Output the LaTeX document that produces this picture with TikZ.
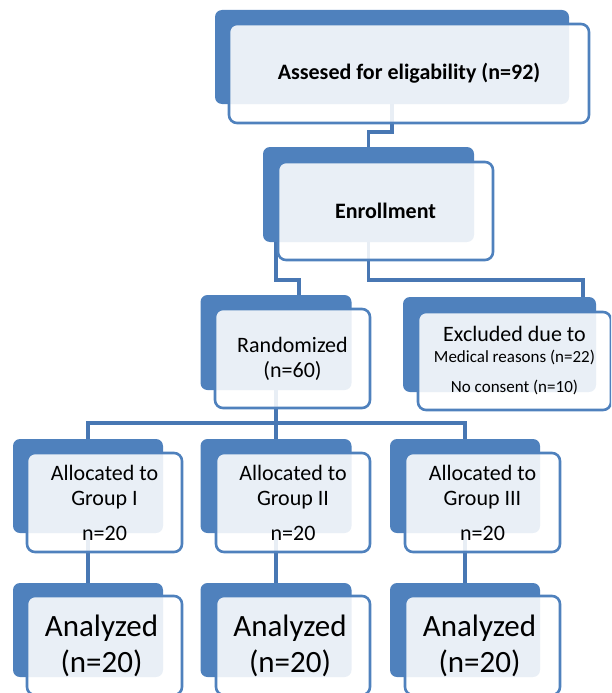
\documentclass[tikz,border=0pt]{standalone}
\usepackage{fontspec}
\setmainfont{Carlito}
\definecolor{accent}{HTML}{4F81BD}
\definecolor{connc}{HTML}{4877B3}
\tikzset{
  back/.style={fill=accent, rounded corners=7pt, inner sep=0pt, outer sep=0pt},
  front/.style={draw=accent, line width=2.6pt, fill=white, fill opacity=0.88, text opacity=1,
    rounded corners=8pt, inner sep=0pt, outer sep=0pt, align=center, text=black},
  conn/.style={draw=connc, line width=3.3pt},
  big/.style={font=\fontsize{22}{25}\selectfont},
  bigb/.style={font=\fontsize{22}{25}\selectfont\bfseries},
  huge/.style={font=\fontsize{31}{36}\selectfont},
}
\begin{document}
\begin{tikzpicture}[x=1pt,y=-1pt]
\useasboundingbox (0,0) rectangle (611,693);
\clip (0,0) rectangle (611,693);
% back rectangles
\node[back, minimum width=354pt, minimum height=94pt] (aB) at (392,57) {};
\node[back, minimum width=211pt, minimum height=95pt] (eB) at (368.5,194.5) {};
\node[back, minimum width=151pt, minimum height=95pt] (rB) at (276,342.5) {};
\node[back, minimum width=193pt, minimum height=95pt] (xB) at (499.5,344.5) {};
\node[back, minimum width=150pt, minimum height=94pt] (g1B) at (88,486) {};
\node[back, minimum width=151pt, minimum height=94pt] (g2B) at (276,486) {};
\node[back, minimum width=150pt, minimum height=94pt] (g3B) at (465,486) {};
\node[back, minimum width=150pt, minimum height=94pt] (z1B) at (88,630) {};
\node[back, minimum width=151pt, minimum height=94pt] (z2B) at (276,630) {};
\node[back, minimum width=150pt, minimum height=94pt] (z3B) at (465,630) {};
% connectors
\draw[conn] (aB.south) -- ++(0,28) -| (eB.north);
\draw[conn] (eB.south) -- ++(0,38) -| ([xshift=-13pt]xB.north east);
\draw[conn] ([xshift=13pt]eB.south west) -- ++(0,38) -| ([xshift=23pt]rB.north);
\draw[conn] (rB.south) -- ++(0,33) -| (g1B.north);
\draw[conn] (rB.south) -- ++(0,33) -| (g3B.north);
\draw[conn] (rB.south) -- (g2B.north);
\draw[conn] (g1B.south) -- (z1B.north);
\draw[conn] (g2B.south) -- (z2B.north);
\draw[conn] (g3B.south) -- (z3B.north);
% front boxes with text
\node[front, bigb, minimum width=360pt, minimum height=99pt] (aF) at (409,73.5) {Assesed for eligability (n=92)};
\node[front, bigb, minimum width=215pt, minimum height=98pt] (eF) at (385.5,211) {Enrollment};
\node[front, big, minimum width=155pt, minimum height=99pt] (rF) at (292.5,358.5) {Randomized\\(n=60)};
\node[front, big, minimum width=193pt, minimum height=98pt] (xF) at (514.5,361) {Excluded due to\\[-4pt]{\fontsize{17}{20}\selectfont Medical reasons (n=22)}\\[5pt]{\fontsize{17}{20}\selectfont No consent (n=10)}};
\node[front, big, minimum width=155pt, minimum height=99pt] (g1F) at (104.5,502.5) {Allocated to\\Group I\\[10pt]n=20};
\node[front, big, minimum width=154pt, minimum height=99pt] (g2F) at (293,502.5) {Allocated to\\Group II\\[10pt]n=20};
\node[front, big, minimum width=155pt, minimum height=99pt] (g3F) at (482.5,502.5) {Allocated to\\Group III\\[10pt]n=20};
\node[front, huge, minimum width=155pt, minimum height=99pt] (z1F) at (104.5,645.5) {\hspace*{-6pt}Analyzed\\\hspace*{-6pt}(n=20)};
\node[front, huge, minimum width=154pt, minimum height=99pt] (z2F) at (293,645.5) {\hspace*{-6pt}Analyzed\\\hspace*{-6pt}(n=20)};
\node[front, huge, minimum width=155pt, minimum height=99pt] (z3F) at (482.5,645.5) {\hspace*{-6pt}Analyzed\\\hspace*{-6pt}(n=20)};
\end{tikzpicture}
\end{document}
